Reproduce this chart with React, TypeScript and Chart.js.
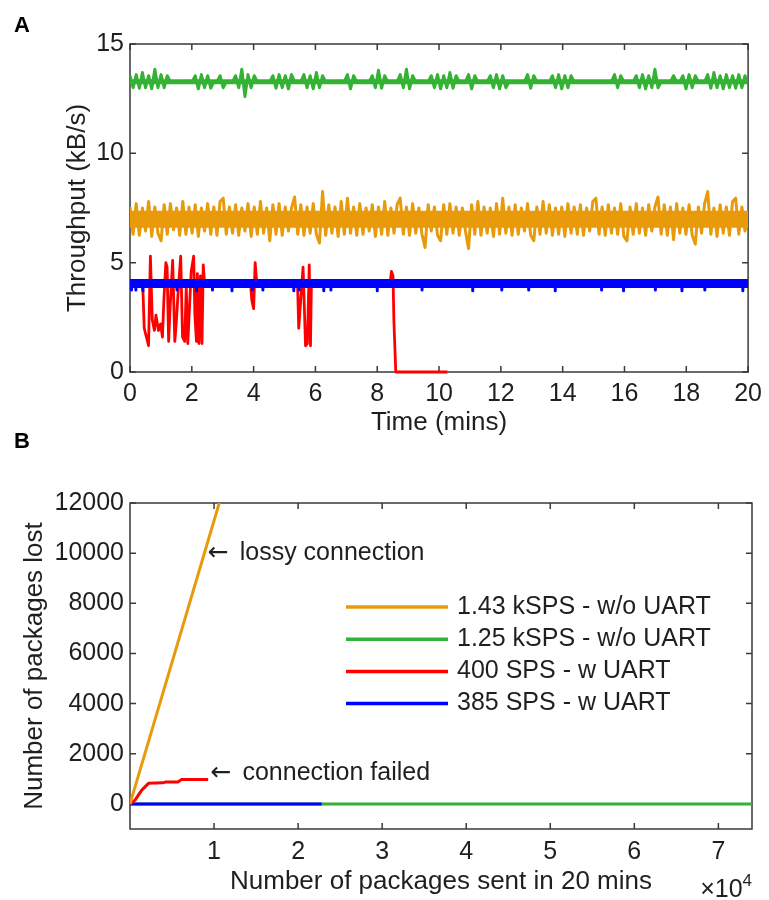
import React, { useEffect, useRef } from 'react';
import { Chart, registerables } from 'chart.js';

Chart.register(...registerables);

const FONT_FAMILY = "'Liberation Sans', Arial, Helvetica, sans-serif";
const ARROW_FONT = "'DejaVu Sans', 'Liberation Sans', sans-serif";
const TEXT_COLOR = '#1f1f1f';
const AXIS_COLOR = '#3a3a3a';

const ORANGE = '#e89a0a';
const GREEN = '#33b233';
const RED = '#ff0000';
const BLUE = '#0000ff';

// ---------------- Panel A : throughput over time ----------------
const timeTicks = [0, 2, 4, 6, 8, 10, 12, 14, 16, 18, 20];
const throughputTicks = [0, 5, 10, 15];
const sampleSpanMins = 20;

// 1.25 kSPS - w/o UART (evenly sampled over 20 mins)
const greenThroughput = [
  13.55, 13.0, 13.6, 12.98, 13.7, 13.0, 13.55, 12.95, 13.85, 13.0,
  13.6, 13.0, 13.55, 13.27, 13.27, 13.27, 13.27, 13.27, 13.27, 13.27,
  13.27, 13.55, 12.95, 13.6, 13.0, 13.55, 12.98, 13.27, 13.27, 13.55,
  13.0, 13.27, 13.27, 13.27, 13.55, 13.0, 13.85, 12.6, 13.6, 13.0,
  13.55, 13.27, 13.27, 13.27, 13.27, 13.27, 13.55, 12.98, 13.6, 13.0,
  13.55, 12.95, 13.6, 13.27, 13.27, 13.27, 13.6, 13.0, 13.55, 12.95,
  13.7, 13.0, 13.55, 13.27, 13.27, 13.27, 13.27, 13.27, 13.27, 13.27,
  13.6, 12.95, 13.55, 13.27, 13.27, 13.27, 13.27, 13.27, 13.55, 13.0,
  13.8, 12.98, 13.55, 13.27, 13.27, 13.27, 13.27, 13.6, 13.0, 13.85,
  12.95, 13.55, 13.27, 13.27, 13.27, 13.27, 13.27, 13.55, 13.0, 13.6,
  12.95, 13.55, 13.0, 13.7, 12.98, 13.55, 13.27, 13.27, 13.27, 13.6,
  12.95, 13.55, 13.27, 13.27, 13.27, 13.27, 13.55, 13.0, 13.6, 12.95,
  13.55, 13.0, 13.27, 13.27, 13.27, 13.27, 13.27, 13.27, 13.6, 12.98,
  13.55, 13.27, 13.27, 13.27, 13.27, 13.27, 13.55, 13.0, 13.6, 12.95,
  13.55, 13.0, 13.55, 13.27, 13.27, 13.27, 13.27, 13.27, 13.27, 13.27,
  13.27, 13.27, 13.27, 13.27, 13.27, 13.27, 13.6, 13.0, 13.55, 13.27,
  13.27, 13.27, 13.27, 13.55, 13.0, 13.6, 12.95, 13.55, 13.0, 13.85,
  13.0, 13.27, 13.27, 13.27, 13.27, 13.55, 13.27, 13.27, 13.55, 12.95,
  13.6, 13.0, 13.55, 13.27, 13.27, 13.27, 13.6, 12.98, 13.7, 13.0,
  13.55, 12.95, 13.6, 13.0, 13.55, 12.98, 13.6, 13.0, 13.55, 13.2,
];
// dense core level of the 1.25 kSPS trace
const greenCoreTime = [0, 20];
const greenCoreThroughput = [13.27, 13.27];

// 1.43 kSPS - w/o UART (evenly sampled over 20 mins)
const orangeThroughput = [
  7.55, 6.3, 7.7, 6.25, 7.5, 6.45, 7.8, 6.2, 7.55, 6.35,
  6.0, 7.65, 6.3, 7.7, 6.5, 7.5, 6.25, 7.8, 6.3, 7.55,
  6.35, 7.65, 6.2, 7.5, 6.45, 7.7, 6.3, 7.55, 6.25, 7.8,
  7.95, 6.3, 7.55, 6.35, 7.65, 6.25, 7.5, 6.45, 7.7, 6.2,
  7.55, 6.3, 7.8, 6.35, 7.5, 6.0, 7.65, 6.3, 7.7, 6.25,
  7.55, 6.45, 7.5, 8.0, 6.3, 7.65, 6.25, 7.55, 6.35, 7.7,
  6.3, 5.9, 8.25, 6.25, 7.65, 6.35, 7.55, 6.2, 7.8, 6.3,
  7.95, 6.35, 7.55, 6.25, 7.7, 6.3, 7.5, 6.45, 7.65, 6.2,
  7.55, 6.3, 7.8, 6.25, 7.5, 6.35, 7.65, 7.95, 6.3, 7.55,
  6.25, 7.7, 6.35, 7.5, 6.3, 5.7, 7.65, 6.45, 7.55, 6.25,
  6.0, 7.65, 6.3, 7.7, 6.35, 7.55, 6.25, 7.5, 6.45, 5.65,
  7.65, 6.3, 7.8, 6.25, 7.55, 6.35, 7.5, 6.2, 7.7, 6.3,
  7.95, 6.35, 7.55, 6.25, 7.65, 6.3, 7.5, 6.45, 7.7, 6.25,
  6.0, 7.55, 6.3, 7.8, 6.35, 7.65, 6.25, 7.5, 6.3, 7.55,
  6.2, 7.7, 6.35, 7.55, 6.3, 7.65, 6.25, 7.5, 6.45, 7.8,
  7.95, 6.3, 7.55, 6.25, 7.65, 6.35, 7.5, 6.3, 7.7, 6.2,
  6.0, 7.55, 6.3, 7.7, 6.35, 7.5, 6.25, 7.65, 6.45, 7.55,
  8.0, 6.3, 7.65, 6.25, 7.55, 6.05, 7.7, 6.35, 7.5, 6.3,
  7.65, 6.25, 5.85, 7.55, 6.35, 7.7, 8.25, 6.3, 7.5, 6.2,
  7.65, 6.35, 7.55, 6.25, 7.8, 7.95, 6.3, 7.55, 6.45, 7.0,
];
// dense core level of the 1.43 kSPS trace
const orangeCoreTime = [0, 20];
const orangeCoreThroughput = [6.98, 6.98];

// 400 SPS - w UART
const redTime = [
  0, 0.38, 0.42, 0.46, 0.53, 0.6, 0.66, 0.72, 0.79, 0.84,
  0.92, 0.99, 1.05, 1.1, 1.16, 1.2, 1.25, 1.3, 1.38, 1.45,
  1.5, 1.55, 1.64, 1.7, 1.77, 1.82, 1.87, 1.98, 2.06, 2.1,
  2.15, 2.18, 2.23, 2.28, 2.33, 2.37, 2.41, 3.9, 3.94, 4.0,
  4.05, 4.1, 5.42, 5.46, 5.6, 5.68, 5.74, 5.8, 5.84, 5.87,
  8.42, 8.46, 8.51, 8.54, 8.6, 10.27,
];
const redThroughput = [
  4.1, 4.0, 3.7, 2.0, 1.6, 1.2, 5.3, 2.4, 1.9, 2.6,
  1.9, 2.2, 1.6, 3.4, 5.0, 4.8, 1.4, 3.0, 5.1, 1.4,
  2.3, 3.5, 5.3, 1.6, 1.4, 3.9, 1.3, 4.6, 5.3, 2.6,
  1.4, 4.5, 1.3, 4.4, 1.3, 4.9, 4.1, 4.1, 3.3, 2.9,
  5.0, 4.1, 4.1, 2.0, 4.8, 1.2, 1.3, 4.9, 1.2, 4.1,
  4.1, 4.6, 4.4, 2.3, 0, 0,
];

// 385 SPS - w UART
const blueBaseTime = [0, 20];
const blueBaseThroughput = [4.05, 4.05];
const blueDipTime = [
  0.05, 0.19, 0.42, 1.52, 2.15, 2.67, 3.3, 3.96, 4.3, 5.3,
  5.47, 6.27, 6.5, 8.0, 9.45, 11.09, 12.03, 12.9, 13.76, 15.26,
  15.97, 17.0, 17.86, 18.6, 19.83,
];
const blueDipLow = [
  3.75, 3.75, 3.72, 3.75, 3.72, 3.75, 3.72, 3.75, 3.75, 3.72,
  3.75, 3.72, 3.75, 3.72, 3.75, 3.72, 3.75, 3.75, 3.72, 3.75,
  3.72, 3.75, 3.72, 3.75, 3.72,
];

// ---------------- Panel B : packages lost ----------------
const sentTicks = [10000, 20000, 30000, 40000, 50000, 60000, 70000];
const lostTicks = [0, 2000, 4000, 6000, 8000, 10000, 12000];

const orangeSent = [0, 10620];
const orangeLost = [0, 12000];
const greenSent = [0, 74000];
const greenLost = [0, 0];
const redSent = [0, 600, 1400, 2200, 3900, 4200, 5700, 6100, 9300];
const redLost = [0, 150, 550, 820, 840, 870, 870, 970, 970];
const blueSent = [0, 22800];
const blueLost = [0, 0];

const legendLabels = [
  '1.43 kSPS - w/o UART',
  '1.25 kSPS - w/o UART',
  '400 SPS - w UART',
  '385 SPS - w UART',
];
const legendColors = [ORANGE, GREEN, RED, BLUE];

const noteTexts = ['lossy connection', 'connection failed'];
const noteSent = [9250, 9580];
const noteLost = [10000, 1210];

// ---------------- helpers ----------------
const evenSeries = (vals: number[]) =>
  vals.map((v, i) => ({ x: (i * sampleSpanMins) / (vals.length - 1), y: v }));
const pairSeries = (xs: number[], ys: number[]) => xs.map((x, i) => ({ x, y: ys[i] }));
const dipSeries = (ts: number[], lows: number[], base: number) => {
  const out: { x: number; y: number | null }[] = [];
  ts.forEach((t, i) => {
    out.push({ x: t, y: base });
    out.push({ x: t, y: lows[i] });
    out.push({ x: t, y: null });
  });
  return out;
};

const figurePlugin = {
  id: 'figure',
  beforeDatasetsDraw(chart: any) {
    const { ctx, chartArea: ca, scales } = chart;
    const xs = scales.x;
    const ys = scales.y;
    ctx.save();
    ctx.strokeStyle = AXIS_COLOR;
    ctx.lineWidth = 1.5;
    const L = 6;
    ctx.beginPath();
    for (const t of xs.ticks) {
      const p = xs.getPixelForValue(t.value);
      ctx.moveTo(p, ca.bottom);
      ctx.lineTo(p, ca.bottom - L);
      ctx.moveTo(p, ca.top);
      ctx.lineTo(p, ca.top + L);
    }
    for (const t of ys.ticks) {
      const p = ys.getPixelForValue(t.value);
      ctx.moveTo(ca.left, p);
      ctx.lineTo(ca.left + L, p);
      ctx.moveTo(ca.right, p);
      ctx.lineTo(ca.right - L, p);
    }
    ctx.stroke();
    ctx.strokeRect(ca.left, ca.top, ca.right - ca.left, ca.bottom - ca.top);
    ctx.restore();
  },
  afterDatasetsDraw(chart: any, _args: any, o: any) {
    const { ctx, chartArea: ca, scales } = chart;
    const xs = scales.x;
    const ys = scales.y;
    ctx.save();
    ctx.fillStyle = TEXT_COLOR;
    ctx.font = `${o.titleSize}px ${FONT_FAMILY}`;
    ctx.textAlign = 'center';
    ctx.textBaseline = 'middle';
    ctx.fillText(o.xTitle, (ca.left + ca.right) / 2, o.xTitleY);
    ctx.save();
    ctx.translate(o.yTitleX, (ca.top + ca.bottom) / 2);
    ctx.rotate(-Math.PI / 2);
    ctx.fillText(o.yTitle, 0, 0);
    ctx.restore();

    if (o.exponent) {
      ctx.fillStyle = TEXT_COLOR;
      ctx.textAlign = 'right';
      ctx.textBaseline = 'alphabetic';
      ctx.font = `17px ${FONT_FAMILY}`;
      const w4 = ctx.measureText('4').width;
      ctx.fillText('4', ca.right, o.exponentY - 11);
      ctx.font = `25px ${FONT_FAMILY}`;
      ctx.fillText('\u00d710', ca.right - w4, o.exponentY);
    }

    if (o.legend) {
      ctx.textAlign = 'left';
      ctx.textBaseline = 'middle';
      ctx.font = `25px ${FONT_FAMILY}`;
      legendLabels.forEach((lab, i) => {
        const y = o.legend.y0 + i * o.legend.dy;
        ctx.strokeStyle = legendColors[i];
        ctx.lineWidth = 3.5;
        ctx.beginPath();
        ctx.moveTo(o.legend.x1, y);
        ctx.lineTo(o.legend.x2, y);
        ctx.stroke();
        ctx.fillStyle = TEXT_COLOR;
        ctx.fillText(lab, o.legend.tx, y);
      });
    }

    if (o.notes) {
      ctx.textAlign = 'left';
      ctx.textBaseline = 'middle';
      ctx.fillStyle = TEXT_COLOR;
      noteTexts.forEach((txt, i) => {
        const px = xs.getPixelForValue(noteSent[i]);
        const py = ys.getPixelForValue(noteLost[i]);
        ctx.font = `25px ${ARROW_FONT}`;
        ctx.fillText('\u2190', px, py);
        const wa = ctx.measureText('\u2190').width;
        ctx.font = `25px ${FONT_FAMILY}`;
        ctx.fillText(txt, px + wa + 11, py);
      });
    }
    ctx.restore();
  },
};

const tickFont = { family: FONT_FAMILY, size: 25 };

function makeAxis(min: number, max: number, ticks: number[], opts: any) {
  return {
    type: 'linear',
    min,
    max,
    grid: { display: false, drawTicks: false },
    border: { display: false },
    ticks: {
      font: tickFont,
      color: TEXT_COLOR,
      padding: opts.padding,
      maxRotation: 0,
      autoSkip: false,
      callback: opts.callback || ((v: number) => String(v)),
    },
    afterBuildTicks: (s: any) => {
      s.ticks = ticks.map((v) => ({ value: v }));
    },
    afterFit: (s: any) => {
      if (opts.width !== undefined) s.width = opts.width;
      if (opts.height !== undefined) s.height = opts.height;
    },
  };
}

const letterStyle = (top: number): React.CSSProperties => ({
  position: 'absolute',
  left: 14,
  top,
  font: `bold 22px ${FONT_FAMILY}`,
  lineHeight: '22px',
  color: '#000',
  zIndex: 2,
});

export default function App() {
  const refA = useRef<HTMLCanvasElement>(null);
  const refB = useRef<HTMLCanvasElement>(null);

  useEffect(() => {
    const lineDs = (label: string, data: any[], color: string, width: number, extra: any = {}) => ({
      label,
      data,
      borderColor: color,
      backgroundColor: color,
      borderWidth: width,
      pointRadius: 0,
      tension: 0,
      fill: false,
      borderJoinStyle: 'round',
      spanGaps: false,
      ...extra,
    });

    const chartA = new Chart(refA.current as HTMLCanvasElement, {
      type: 'line',
      data: {
        datasets: [
          lineDs('385 SPS - w UART', pairSeries(blueBaseTime, blueBaseThroughput), BLUE, 9),
          lineDs('385 SPS dips', dipSeries(blueDipTime, blueDipLow, blueBaseThroughput[0]), BLUE, 3),
          lineDs('400 SPS - w UART', pairSeries(redTime, redThroughput), RED, 2.8, { clip: 4 }),
          lineDs('1.43 kSPS - w/o UART', evenSeries(orangeThroughput), ORANGE, 3),
          lineDs('1.43 kSPS core', pairSeries(orangeCoreTime, orangeCoreThroughput), ORANGE, 17),
          lineDs('1.25 kSPS - w/o UART', evenSeries(greenThroughput), GREEN, 3),
          lineDs('1.25 kSPS core', pairSeries(greenCoreTime, greenCoreThroughput), GREEN, 5),
        ] as any,
      },
      options: {
        responsive: false,
        animation: false,
        events: [],
        layout: { padding: { top: 44, right: 17, bottom: 0, left: 0 } },
        plugins: {
          legend: { display: false },
          tooltip: { enabled: false },
          figure: {
            titleSize: 26,
            xTitle: 'Time (mins)',
            xTitleY: 423,
            yTitle: 'Throughput (kB/s)',
            yTitleX: 78,
          },
        } as any,
        scales: {
          x: makeAxis(0, 20, timeTicks, { padding: 7, height: 68 }),
          y: makeAxis(0, 15, throughputTicks, { padding: 6, width: 130 }),
        } as any,
      },
      plugins: [figurePlugin],
    });

    const chartB = new Chart(refB.current as HTMLCanvasElement, {
      type: 'line',
      data: {
        datasets: [
          lineDs('1.43 kSPS - w/o UART', pairSeries(orangeSent, orangeLost), ORANGE, 3),
          lineDs('400 SPS - w UART', pairSeries(redSent, redLost), RED, 3),
          lineDs('385 SPS - w UART', pairSeries(blueSent, blueLost), BLUE, 3),
          lineDs('1.25 kSPS - w/o UART', pairSeries(greenSent, greenLost), GREEN, 3),
        ] as any,
      },
      options: {
        responsive: false,
        animation: false,
        events: [],
        layout: { padding: { top: 63, right: 17, bottom: 0, left: 0 } },
        plugins: {
          legend: { display: false },
          tooltip: { enabled: false },
          figure: {
            titleSize: 26,
            xTitle: 'Number of packages sent in 20 mins',
            xTitleY: 442,
            yTitle: 'Number of packages lost',
            yTitleX: 35,
            exponent: true,
            exponentY: 457,
            legend: { x1: 346, x2: 448, tx: 457, y0: 167, dy: 32.2 },
            notes: true,
          },
        } as any,
        scales: {
          x: makeAxis(0, 74000, sentTicks, {
            padding: 8,
            height: 71,
            callback: (v: number) => String(v / 10000),
          }),
          y: makeAxis(-1000, 12000, lostTicks, { padding: 6, width: 130 }),
        } as any,
      },
      plugins: [figurePlugin],
    });

    return () => {
      chartA.destroy();
      chartB.destroy();
    };
  }, []);

  return (
    <div
      style={{
        position: 'absolute',
        left: 0,
        top: 0,
        width: 769,
        height: 900,
        background: '#ffffff',
        overflow: 'hidden',
      }}
    >
      <canvas
        ref={refA}
        width={769}
        height={440}
        style={{ position: 'absolute', left: 0, top: 0, width: 769, height: 440 }}
      />
      <canvas
        ref={refB}
        width={769}
        height={460}
        style={{ position: 'absolute', left: 0, top: 440, width: 769, height: 460 }}
      />
      <div style={letterStyle(14)}>A</div>
      <div style={letterStyle(430)}>B</div>
    </div>
  );
}
